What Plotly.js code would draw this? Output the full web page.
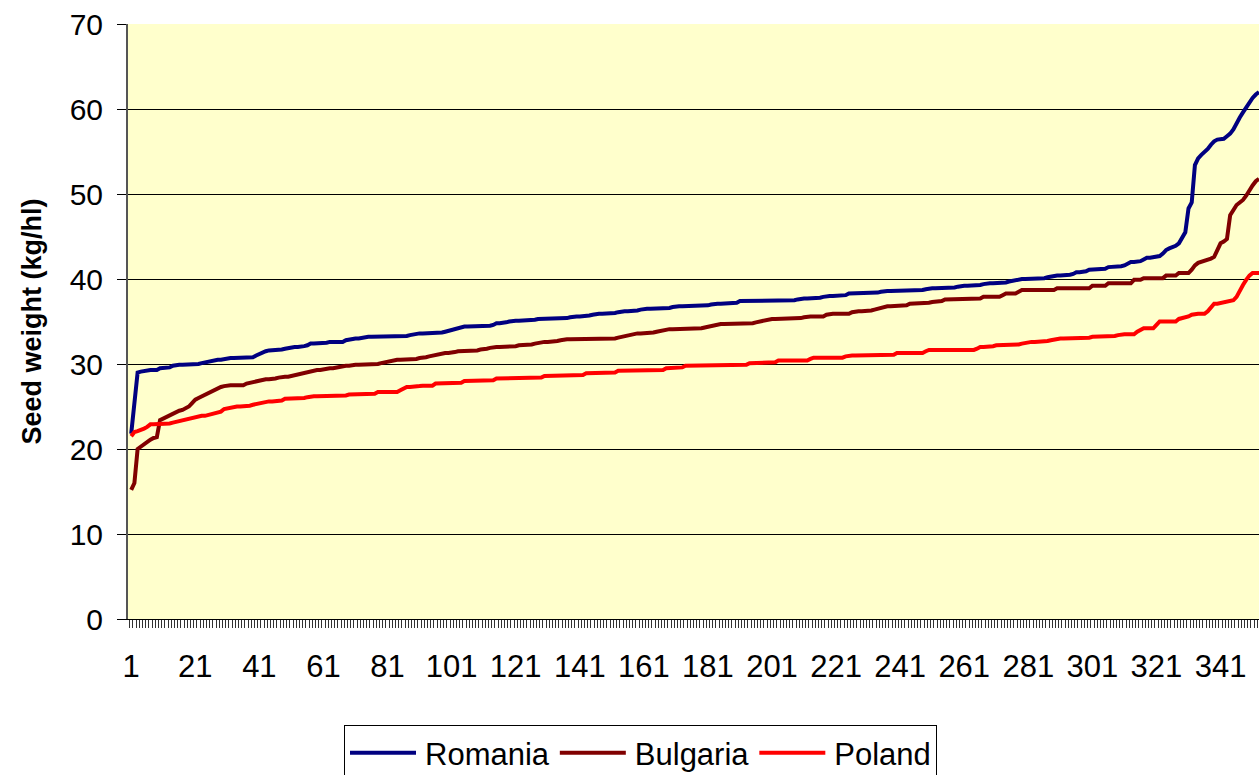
<!DOCTYPE html>
<html>
<head>
<meta charset="utf-8">
<script src="https://cdn.plot.ly/plotly-3.0.1.min.js"></script>
<style>
  html, body { margin: 0; padding: 0; background: #fff; overflow: hidden; }
  #chart { width: 1259px; height: 775px; }
</style>
</head>
<body>
<div id="chart"></div>
<script>
// Sorted seed weight samples per country (kg/hl)
const romania = [
    21.8, 25.5, 29.0, 29.1, 29.2, 29.3, 29.3, 29.3, 29.3, 29.5,
    29.5, 29.6, 29.6, 29.8, 29.9, 29.9, 29.9, 29.9, 29.9, 29.9,
    29.9, 30.0, 30.1, 30.2, 30.3, 30.4, 30.5, 30.5, 30.5, 30.6,
    30.7, 30.7, 30.7, 30.7, 30.7, 30.7, 30.7, 30.7, 30.8, 31.0,
    31.2, 31.3, 31.5, 31.6, 31.6, 31.6, 31.6, 31.7, 31.8, 31.9,
    32.0, 32.0, 32.0, 32.0, 32.1, 32.2, 32.4, 32.4, 32.4, 32.4,
    32.4, 32.5, 32.6, 32.6, 32.6, 32.6, 32.6, 32.8, 32.9, 33.0,
    33.0, 33.0, 33.1, 33.2, 33.2, 33.2, 33.2, 33.2, 33.2, 33.2,
    33.2, 33.2, 33.2, 33.2, 33.2, 33.2, 33.3, 33.4, 33.5, 33.5,
    33.6, 33.6, 33.6, 33.6, 33.6, 33.6, 33.6, 33.7, 33.8, 33.9,
    34.0, 34.1, 34.3, 34.4, 34.4, 34.4, 34.4, 34.4, 34.4, 34.4,
    34.4, 34.4, 34.5, 34.6, 34.8, 34.8, 34.8, 34.9, 35.0, 35.1,
    35.1, 35.1, 35.1, 35.1, 35.1, 35.1, 35.2, 35.3, 35.3, 35.3,
    35.3, 35.3, 35.3, 35.3, 35.3, 35.3, 35.4, 35.5, 35.6, 35.6,
    35.6, 35.6, 35.6, 35.7, 35.8, 35.9, 35.9, 35.9, 35.9, 35.9,
    35.9, 36.0, 36.1, 36.2, 36.2, 36.2, 36.2, 36.2, 36.3, 36.4,
    36.5, 36.5, 36.5, 36.5, 36.5, 36.5, 36.5, 36.5, 36.6, 36.7,
    36.8, 36.8, 36.8, 36.8, 36.8, 36.8, 36.8, 36.8, 36.8, 36.8,
    36.9, 37.0, 37.1, 37.1, 37.1, 37.1, 37.1, 37.1, 37.1, 37.2,
    37.4, 37.4, 37.4, 37.4, 37.4, 37.4, 37.4, 37.4, 37.4, 37.4,
    37.4, 37.4, 37.4, 37.4, 37.4, 37.4, 37.4, 37.5, 37.6, 37.7,
    37.7, 37.7, 37.7, 37.7, 37.7, 37.8, 37.9, 38.0, 38.0, 38.0,
    38.0, 38.0, 38.0, 38.1, 38.3, 38.3, 38.3, 38.3, 38.3, 38.3,
    38.3, 38.3, 38.3, 38.4, 38.5, 38.6, 38.6, 38.6, 38.6, 38.6,
    38.6, 38.6, 38.6, 38.6, 38.6, 38.6, 38.6, 38.7, 38.8, 38.9,
    38.9, 38.9, 38.9, 38.9, 38.9, 38.9, 38.9, 39.0, 39.1, 39.2,
    39.2, 39.2, 39.2, 39.2, 39.2, 39.3, 39.4, 39.5, 39.5, 39.5,
    39.5, 39.5, 39.5, 39.6, 39.7, 39.8, 39.8, 39.9, 40.0, 40.0,
    40.0, 40.0, 40.1, 40.1, 40.1, 40.1, 40.2, 40.3, 40.3, 40.4,
    40.4, 40.4, 40.4, 40.5, 40.6, 40.8, 40.8, 40.8, 40.9, 41.1,
    41.1, 41.1, 41.1, 41.1, 41.2, 41.4, 41.4, 41.5, 41.5, 41.5,
    41.6, 41.8, 42.0, 42.0, 42.0, 42.1, 42.3, 42.5, 42.5, 42.6,
    42.6, 42.7, 43.0, 43.4, 43.6, 43.7, 43.9, 44.2, 44.8, 45.5,
    48.3, 49.0, 53.4, 54.2, 54.6, 54.9, 55.3, 55.8, 56.2, 56.4,
    56.4, 56.5, 56.8, 57.1, 57.6, 58.4, 59.0, 59.6, 60.2, 60.8,
    61.3, 61.7, 62.0
];

const bulgaria = [
    15.2, 16.0, 20.0, 20.3, 20.6, 20.9, 21.1, 21.3, 21.4, 23.4,
    23.6, 23.8, 24.0, 24.2, 24.4, 24.5, 24.6, 24.8, 25.0, 25.4,
    25.8, 26.0, 26.2, 26.4, 26.5, 26.7, 26.9, 27.1, 27.3, 27.4,
    27.5, 27.5, 27.5, 27.5, 27.5, 27.5, 27.7, 27.8, 27.9, 28.0,
    28.1, 28.1, 28.2, 28.2, 28.2, 28.3, 28.4, 28.5, 28.5, 28.5,
    28.6, 28.7, 28.8, 28.8, 28.9, 29.0, 29.1, 29.2, 29.3, 29.3,
    29.4, 29.4, 29.5, 29.5, 29.6, 29.7, 29.7, 29.8, 29.8, 29.9,
    29.9, 29.9, 29.9, 29.9, 29.9, 29.9, 29.9, 30.0, 30.1, 30.2,
    30.3, 30.4, 30.5, 30.5, 30.5, 30.5, 30.5, 30.5, 30.5, 30.6,
    30.7, 30.7, 30.8, 30.9, 31.0, 31.1, 31.2, 31.2, 31.3, 31.3,
    31.3, 31.4, 31.5, 31.5, 31.6, 31.6, 31.6, 31.6, 31.6, 31.7,
    31.7, 31.8, 31.9, 32.0, 32.0, 32.0, 32.0, 32.0, 32.0, 32.1,
    32.1, 32.2, 32.2, 32.2, 32.2, 32.3, 32.4, 32.5, 32.6, 32.6,
    32.6, 32.6, 32.6, 32.7, 32.8, 32.9, 32.9, 32.9, 32.9, 32.9,
    32.9, 32.9, 32.9, 32.9, 32.9, 32.9, 32.9, 32.9, 32.9, 32.9,
    32.9, 33.0, 33.1, 33.2, 33.3, 33.4, 33.5, 33.6, 33.6, 33.6,
    33.6, 33.6, 33.6, 33.7, 33.8, 33.9, 34.0, 34.1, 34.1, 34.1,
    34.1, 34.1, 34.1, 34.1, 34.1, 34.1, 34.1, 34.1, 34.2, 34.3,
    34.4, 34.5, 34.6, 34.7, 34.7, 34.7, 34.7, 34.7, 34.7, 34.7,
    34.7, 34.7, 34.7, 34.7, 34.8, 34.9, 35.0, 35.0, 35.1, 35.2,
    35.3, 35.3, 35.3, 35.3, 35.3, 35.3, 35.3, 35.3, 35.3, 35.4,
    35.5, 35.6, 35.6, 35.6, 35.6, 35.6, 35.6, 35.8, 35.9, 35.9,
    35.9, 35.9, 35.9, 35.9, 35.9, 36.1, 36.2, 36.2, 36.2, 36.2,
    36.2, 36.3, 36.4, 36.5, 36.7, 36.8, 36.8, 36.8, 36.8, 36.8,
    36.8, 36.8, 36.9, 37.1, 37.1, 37.1, 37.1, 37.1, 37.1, 37.2,
    37.3, 37.3, 37.3, 37.4, 37.6, 37.6, 37.6, 37.6, 37.6, 37.6,
    37.6, 37.6, 37.6, 37.6, 37.6, 37.7, 37.9, 37.9, 37.9, 37.9,
    37.9, 37.9, 38.1, 38.3, 38.3, 38.3, 38.3, 38.5, 38.7, 38.7,
    38.7, 38.7, 38.7, 38.7, 38.7, 38.7, 38.7, 38.7, 38.7, 38.9,
    38.9, 38.9, 38.9, 38.9, 38.9, 38.9, 38.9, 38.9, 38.9, 38.9,
    39.2, 39.2, 39.2, 39.2, 39.2, 39.5, 39.5, 39.5, 39.5, 39.5,
    39.5, 39.5, 39.5, 39.9, 39.9, 39.9, 40.1, 40.1, 40.1, 40.1,
    40.1, 40.1, 40.1, 40.4, 40.4, 40.4, 40.4, 40.7, 40.7, 40.7,
    40.7, 41.1, 41.6, 41.9, 42.0, 42.1, 42.2, 42.4, 42.6, 43.5,
    44.2, 44.4, 44.7, 47.5, 48.2, 48.7, 49.0, 49.3, 49.8, 50.5,
    51.0, 51.5, 51.8
];

const poland = [
    21.5, 22.0, 22.1, 22.2, 22.4, 22.6, 22.9, 22.9, 22.9, 22.9,
    22.9, 22.9, 23.0, 23.1, 23.2, 23.3, 23.4, 23.5, 23.6, 23.6,
    23.7, 23.8, 23.9, 23.9, 24.0, 24.1, 24.1, 24.2, 24.4, 24.7,
    24.8, 24.9, 25.0, 25.0, 25.0, 25.0, 25.0, 25.1, 25.2, 25.3,
    25.4, 25.5, 25.5, 25.6, 25.6, 25.6, 25.6, 25.7, 25.9, 25.9,
    25.9, 25.9, 25.9, 25.9, 26.0, 26.1, 26.2, 26.2, 26.2, 26.2,
    26.2, 26.2, 26.2, 26.2, 26.2, 26.2, 26.2, 26.3, 26.4, 26.4,
    26.4, 26.4, 26.4, 26.4, 26.4, 26.4, 26.5, 26.7, 26.7, 26.7,
    26.7, 26.7, 26.7, 26.7, 26.9, 27.1, 27.3, 27.3, 27.3, 27.3,
    27.4, 27.45, 27.45, 27.45, 27.45, 27.7, 27.7, 27.7, 27.7, 27.7,
    27.7, 27.7, 27.7, 27.8, 28.0, 28.0, 28.0, 28.0, 28.0, 28.0,
    28.0, 28.0, 28.0, 28.1, 28.3, 28.3, 28.3, 28.3, 28.3, 28.3,
    28.3, 28.3, 28.3, 28.3, 28.3, 28.3, 28.3, 28.3, 28.4, 28.6,
    28.6, 28.6, 28.6, 28.6, 28.6, 28.6, 28.6, 28.6, 28.6, 28.6,
    28.6, 28.7, 28.9, 28.9, 28.9, 28.9, 28.9, 28.9, 28.9, 28.9,
    28.9, 29.0, 29.2, 29.2, 29.2, 29.2, 29.2, 29.2, 29.2, 29.2,
    29.2, 29.2, 29.2, 29.2, 29.2, 29.2, 29.3, 29.5, 29.5, 29.5,
    29.5, 29.5, 29.6, 29.8, 29.8, 29.8, 29.8, 29.8, 29.8, 29.8,
    29.8, 29.8, 29.8, 29.8, 29.8, 29.8, 29.8, 29.8, 29.8, 29.8,
    29.8, 29.8, 29.9, 30.1, 30.1, 30.1, 30.1, 30.1, 30.1, 30.1,
    30.1, 30.2, 30.4, 30.4, 30.4, 30.4, 30.4, 30.4, 30.4, 30.4,
    30.4, 30.4, 30.6, 30.75, 30.75, 30.75, 30.75, 30.75, 30.75, 30.75,
    30.75, 30.75, 30.75, 30.9, 31.0, 31.0, 31.0, 31.0, 31.0, 31.0,
    31.0, 31.0, 31.0, 31.0, 31.0, 31.0, 31.0, 31.0, 31.1, 31.3,
    31.3, 31.3, 31.3, 31.3, 31.3, 31.3, 31.3, 31.3, 31.5, 31.65,
    31.65, 31.65, 31.65, 31.65, 31.65, 31.65, 31.65, 31.65, 31.65, 31.65,
    31.65, 31.65, 31.65, 31.65, 31.8, 32.0, 32.0, 32.0, 32.0, 32.1,
    32.2, 32.2, 32.2, 32.2, 32.2, 32.2, 32.2, 32.3, 32.4, 32.5,
    32.6, 32.6, 32.6, 32.6, 32.6, 32.6, 32.7, 32.8, 32.9, 32.9,
    33.0, 33.0, 33.0, 33.0, 33.0, 33.0, 33.0, 33.0, 33.0, 33.1,
    33.2, 33.2, 33.2, 33.2, 33.2, 33.2, 33.2, 33.3, 33.4, 33.5,
    33.5, 33.5, 33.5, 33.5, 33.8, 34.0, 34.2, 34.2, 34.2, 34.2,
    34.6, 35.0, 35.0, 35.0, 35.0, 35.0, 35.0, 35.3, 35.4, 35.4,
    35.6, 35.8, 35.9, 35.9, 35.9, 35.9, 36.2, 36.6, 37.1, 37.1,
    37.2, 37.3, 37.3, 37.4, 37.5, 37.9, 38.7, 39.3, 39.9, 40.4,
    40.7, 40.7, 40.7
];

// Category labels shown under the x axis
const xTickVals = [1, 21, 41, 61, 81, 101, 121, 141, 161, 181, 201, 221, 241, 261, 281, 301, 321, 341];
const yTickVals = [0, 10, 20, 30, 40, 50, 60, 70];

// Sample index (1..n) for every point
const sampleNo = romania.map((v, i) => i + 1);

const FontName = '"Liberation Sans", Arial, sans-serif';

// Width of the legend line sample
const LegendLine = 66;

function lineTrace(name, values, color) {
    return {
        x: sampleNo,
        y: values,
        name: name,
        type: 'scatter',
        mode: 'lines',
        hoverinfo: 'none',
        line: { color: color, width: 4 }
    };
}

var traces = [
    lineTrace('Romania', romania, '#000080'),
    lineTrace('Bulgaria', bulgaria, '#800000'),
    lineTrace('Poland', poland, '#FF0000')
];

var layout = {
    width: 1259,
    height: 775,
    margin: { l: 128, r: 0, t: 24, b: 156 },
    paper_bgcolor: '#ffffff',
    plot_bgcolor: '#FFFFCC',
    font: { family: FontName, size: 30, color: '#000' },
    showlegend: true,
    legend: {
        orientation: 'h',
        xref: 'container', yref: 'container',
        x: 344 / 1259, xanchor: 'left',
        y: 50 / 775, yanchor: 'top',
        bgcolor: '#ffffff',
        bordercolor: '#000000',
        borderwidth: 1,
        itemwidth: LegendLine + 4,
        font: { family: FontName, size: 31, color: '#000' }
    },
    xaxis: {
        range: [0, sampleNo.length],
        tickmode: 'array',
        tickvals: xTickVals,
        ticktext: xTickVals.map(String),
        ticks: '',
        ticklabelstandoff: 20,
        tickfont: { family: FontName, size: 31 },
        showgrid: false,
        zeroline: false,
        showline: true,
        linecolor: '#000',
        linewidth: 1,
        minor: { ticks: 'outside', tick0: 0.5, dtick: 1, ticklen: 8, tickcolor: '#333', tickwidth: 1, showgrid: false },
        fixedrange: true
    },
    yaxis: {
        range: [0, 70],
        tickmode: 'array',
        tickvals: yTickVals,
        ticks: 'outside',
        ticklen: 9,
        tickcolor: '#000',
        ticklabelstandoff: 8,
        tickfont: { family: FontName, size: 30 },
        showgrid: true,
        gridcolor: '#000',
        gridwidth: 1,
        zeroline: false,
        showline: true,
        linecolor: '#555',
        linewidth: 2,
        title: {
            text: 'Seed weight (kg/hl)',
            font: { family: FontName, size: 27, weight: 'bold', color: '#000' },
            standoff: 20
        },
        fixedrange: true
    }
};

// Stretch the legend line samples to the wider item width
function widenLegendLines() {
    document.querySelectorAll('.legend .legendlines path').forEach(p => {
        p.setAttribute('d', 'M5,0h' + LegendLine);
    });
}

Plotly.newPlot('chart', traces, layout, { displayModeBar: false, staticPlot: true })
    .then(widenLegendLines);
</script>
</body>
</html>
